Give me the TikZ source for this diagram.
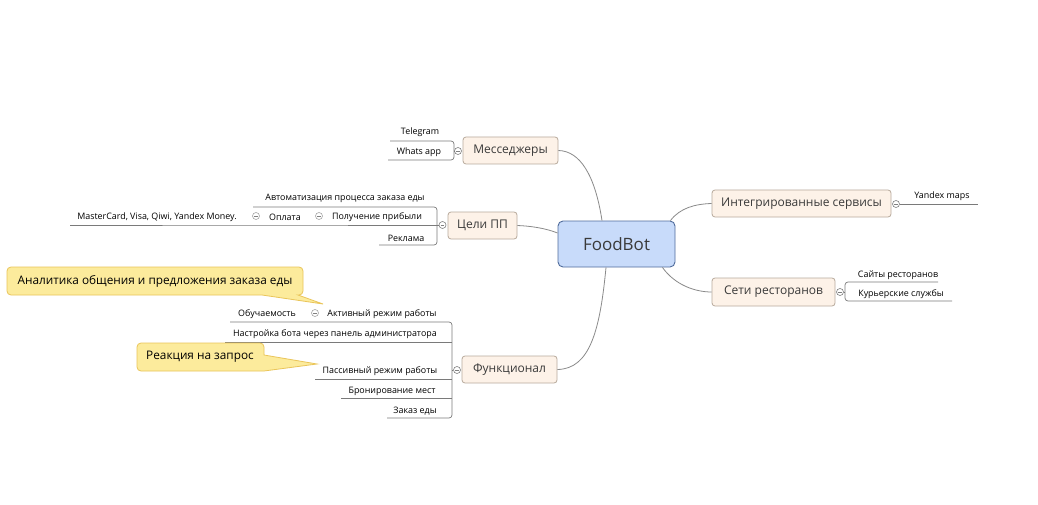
\documentclass[tikz,border=0pt]{standalone}
\usepackage{fontspec}
\setmainfont{Open Sans}
\definecolor{topicfill}{HTML}{FDF2E8}
\definecolor{topicdraw}{HTML}{B8AA9C}
\definecolor{centfill}{HTML}{C8DBFA}
\definecolor{centdraw}{HTML}{506C9C}
\definecolor{linegray}{HTML}{8A8A8A}
\definecolor{ulgray}{HTML}{7A7A7A}
\definecolor{callfill}{HTML}{FCEB9C}
\definecolor{calldraw}{HTML}{EAC55A}
\definecolor{txt}{HTML}{3A3A3A}
\begin{document}
\begin{tikzpicture}[x=1pt,y=-1pt,
  topic/.style={draw=topicdraw, fill=topicfill, rounded corners=3pt, line width=0.8pt,
    font=\fontsize{12}{14}\selectfont, text=txt, inner sep=0pt, minimum height=27pt},
  central/.style={draw=centdraw, fill=centfill, rounded corners=5pt, line width=0.9pt,
    font=\fontsize{17}{20}\selectfont, text=txt, inner sep=0pt, minimum width=117pt, minimum height=46pt},
  leaf/.style={font=\fontsize{8.9}{10}\selectfont, inner sep=0pt, text=black, yshift=-1.5pt},
  calltext/.style={font=\fontsize{11.8}{13}\selectfont, inner sep=0pt, text=black},
  conn/.style={draw=linegray, line width=0.8pt},
  uline/.style={draw=ulgray, line width=0.7pt, rounded corners=3pt},
  tog/.style={circle, draw=gray, fill=white, minimum size=7pt, inner sep=0pt, line width=0.6pt,
    path picture={\draw[gray, line width=0.6pt] ([xshift=-1.8pt]path picture bounding box.center) -- ([xshift=1.8pt]path picture bounding box.center);}},
  callout/.style={draw=calldraw, fill=callfill, line width=0.8pt}
]
\useasboundingbox[fill=white] (0,0) rectangle (1038,505);

% central and main topics
\node[central] (cent) at (616.5,244) {FoodBot};
\node[topic, minimum width=95pt] (mess) at (510.5,150.5) {Месседжеры};
\node[topic, minimum width=69pt] (goals) at (482.5,225.5) {Цели ПП};
\node[topic, minimum width=95pt] (func) at (509.5,369.5) {Функционал};
\node[topic, minimum width=179pt] (integ) at (801.5,203.5) {Интегрированные сервисы};
\node[topic, minimum width=123pt, minimum height=28pt] (nets) at (773.5,292) {Сети ресторанов};

% connectors from central
\draw[conn] ([xshift=-14.5pt]cent.north) .. controls (595,175) and (580,151) .. (mess.east);
\draw[conn] ([yshift=11pt]cent.west) .. controls (545,228) and (530,226) .. (goals.east);
\draw[conn] ([xshift=-10.5pt]cent.south) .. controls (600,330) and (590,369) .. (func.east);
\draw[conn] ([xshift=-5pt]cent.north east) .. controls (680,208) and (695,204) .. (integ.west);
\draw[conn] ([xshift=-13pt]cent.south east) .. controls (675,285) and (695,292) .. (nets.west);

% toggles
\node[tog] (messtog) at (458,151) {};
\node[tog] (goalstog) at (442.5,225) {};
\node[tog] (functog) at (457,370) {};
\node[tog] (integtog) at (896,204) {};
\node[tog] (netstog) at (840,292) {};
\node[tog, draw=gray!70] (paytog) at (256,216) {};
\node[tog, draw=gray!70] (profittog) at (319,216) {};
\node[tog, draw=gray!70] (activetog) at (315,313) {};

% messengers
\draw[uline] (390,141) -- (454,141) -- (454,160) -- (388,160);
\draw[uline] (messtog) -- (454,151);
\node[leaf] (tg) at (420,131) {Telegram};
\node[leaf] (wa) at (419,151) {Whats app};

% goals
\draw[uline] (253,207) -- (437,207) -- (437,245) -- (379,245);
\draw[uline] (70,225) -- (paytog.south |- 0,225) -- (goalstog);
\node[leaf] (auto) at (345,197) {Автоматизация процесса заказа еды};
\node[leaf] (card) at (157,216) {MasterCard, Visa, Qiwi, Yandex Money.};
\node[leaf] (pay) at (285,216) {Оплата};
\node[leaf] (profit) at (377,216) {Получение прибыли};
\node[leaf] (ads) at (406,237) {Реклама};

% functional
\draw[uline] (230,322) -- (452,322) -- (452,418) -- (387,418);
\draw[uline] (225,342) -- (452,342);
\draw[uline] (315,379) -- (452,379);
\draw[uline] (341,398) -- (452,398);
\draw[uline] (452,370) -- (functog);
\node[leaf] (learn) at (267,313) {Обучаемость};
\node[leaf] (active) at (382,313) {Активный режим работы};
\node[leaf] (admin) at (335,333) {Настройка бота через панель администратора};
\node[leaf] (passive) at (380,370) {Пассивный режим работы};
\node[leaf] (book) at (392,390) {Бронирование мест};
\node[leaf] (order) at (415,410) {Заказ еды};

% integrated services
\draw[uline] (integtog) -- (978,204);
\node[leaf] (ymaps) at (942,195) {Yandex maps};

% restaurant networks
\draw[uline] (938,282) -- (845,282) -- (845,301) -- (952,301);
\draw[uline] (netstog) -- (845,292);
\node[leaf] (sites) at (898,274) {Сайты ресторанов};
\node[leaf] (courier) at (901,292.5) {Курьерские службы};

% callouts
\coordinate (anatip) at (323,304);
\coordinate (reacttip) at (317,364);
\path[callout] (7,281) [rounded corners=4pt] -- (7,267) -- (303,267) -- (303,295) [sharp corners] -- (298,295) -- (anatip) -- (262,295) [rounded corners=4pt] -- (7,295) [sharp corners] -- cycle;
\node[calltext] (ana) at (155,281) {Аналитика общения и предложения заказа еды};
\path[callout] (137,357) [rounded corners=4pt] -- (137,343) -- (264,343) [sharp corners] -- (264,355) -- (reacttip) -- (264,371) [rounded corners=4pt] -- (137,371) [sharp corners] -- cycle;
\node[calltext] (react) at (200,357) {Реакция на запрос};
\end{tikzpicture}
\end{document}
